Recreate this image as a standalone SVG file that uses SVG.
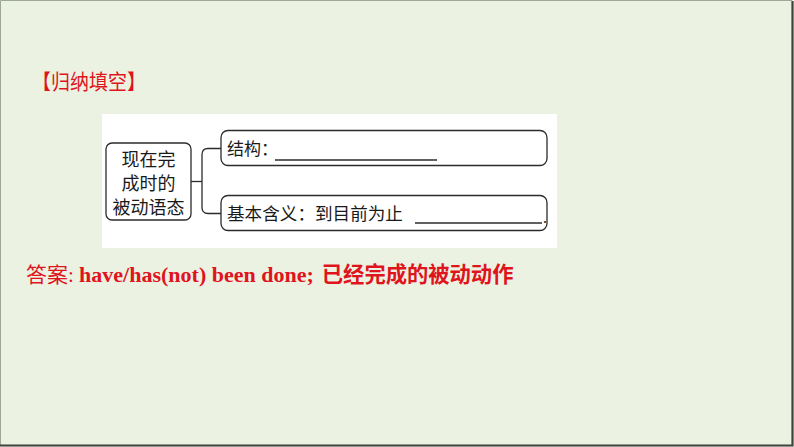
<svg xmlns="http://www.w3.org/2000/svg" width="794" height="447" viewBox="0 0 794 447">
<style>
.node{fill:#fff;stroke:#2b2b2b;stroke-width:1.3}
.cn{font-family:"Noto Sans CJK SC","Noto Sans",sans-serif;fill:#1a1a1a}
.red{fill:#E0141C}
.line{fill:none;stroke:#2b2b2b;stroke-width:1.3}
</style>
<rect x="0" y="0" width="794" height="447" fill="#EBF2E2"/>
<path d="M0.5 446 V0.5 H792" fill="none" stroke="#9EA895" stroke-width="1"/>
<path d="M792.5 1 V445.5 H0" fill="none" stroke="#3f423d" stroke-width="2.2"/>
<text x="32" y="89" class="cn red" font-size="21" textLength="114" lengthAdjust="spacingAndGlyphs">【归纳填空】</text>
<rect x="102" y="114" width="455" height="134" fill="#fff"/>
<g id="connectors">
<path class="line" d="M191 181.5 H202"/>
<path class="line" d="M221 148.5 H208 Q202 148.5 202 154.5 V207.5 Q202 213.5 208 213.5 H221"/>
</g>
<g id="node-root">
<rect class="node" x="106" y="143" width="85" height="77" rx="6"/>
<text class="cn" font-size="18" text-anchor="middle"><tspan x="148.5" y="166">现在完</tspan><tspan x="148.5" y="190">成时的</tspan><tspan x="148.5" y="214">被动语态</tspan></text>
</g>
<g id="node-structure">
<rect class="node" x="221" y="130.5" width="326" height="35" rx="7"/>
<text class="cn" x="227" y="155" font-size="17">结构：</text>
<path class="line" d="M275 160 H437"/>
</g>
<g id="node-meaning">
<rect class="node" x="221" y="195.5" width="326" height="35" rx="7"/>
<text class="cn" x="227" y="220" font-size="17.6">基本含义：到目前为止</text>
<path class="line" d="M415 223 H542"/>
<text class="cn" x="543" y="223" font-size="14">.</text>
</g>
<text x="26" y="282" class="red" font-size="21"><tspan font-family="'Noto Sans CJK SC',sans-serif">答案</tspan><tspan font-family="'Liberation Serif',serif">: </tspan><tspan font-family="'Liberation Serif',serif" font-weight="bold" font-size="22">have/has(not) been done;</tspan><tspan font-family="'Noto Sans CJK SC',sans-serif" font-weight="bold" font-size="21.3" dx="8">已经完成的被动动作</tspan></text>
</svg>
